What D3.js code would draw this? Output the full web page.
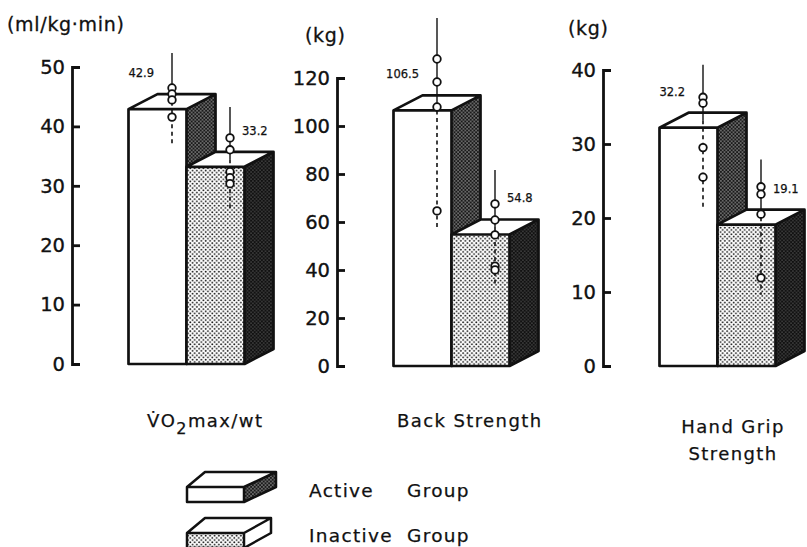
<!DOCTYPE html>
<html>
<head>
<meta charset="utf-8">
<script src="https://cdn.jsdelivr.net/npm/d3@7"></script>
<style>
  html, body { margin: 0; padding: 0; background: #fff; }
  svg { display: block; }
  text { font-family: "DejaVu Sans", sans-serif; fill: #111; }
</style>
</head>
<body>
<svg id="chart" width="807" height="547"></svg>
<script>
// ---- data ----
const measures = ["VO2max/wt", "Back Strength", "Hand Grip Strength"];
const groups = ["Active Group", "Inactive Group"];
const units = ["(ml/kg\u00B7min)", "(kg)", "(kg)"];
const axisMax = [50, 120, 40];
const tickStep = [10, 20, 10];

const activeMean = [42.9, 106.5, 32.2];
const inactiveMean = [33.2, 54.8, 19.1];
const activeUpper = [51.1, 141.9, 39.7];
const activeLower = [35.8, 53.5, 20.5];
const inactiveUpper = [42.0, 78.5, 26.9];
const inactiveLower = [25.0, 30.6, 8.6];
const activePoints = [
  [45.2, 44.2, 43.2, 40.3],
  [124.8, 115.2, 104.8, 61.5],
  [35.3, 34.5, 28.5, 24.5]
];
const inactivePoints = [
  [36.8, 34.8, 31.1, 30.1, 29.1],
  [64.4, 57.7, 51.5, 38.5, 36.9],
  [23.2, 22.2, 19.5, 10.9]
];

// ---- layout ----
const svg = d3.select("#chart");
const panelAxisX = [72, 337, 603];
const panelTop = [67, 78, 70];
const panelBase = [364, 366, 366];
const barW = 58;
const depthX = 29, depthY = -15;
const ink = "#111";

// fill patterns (printed stipple screens)
const defs = svg.append("defs");
function dotPattern(id, bg, dot, r, s) {
  const p = defs.append("pattern").attr("id", id)
    .attr("patternUnits", "userSpaceOnUse").attr("width", s).attr("height", s);
  p.append("rect").attr("width", s).attr("height", s).attr("fill", bg);
  p.append("circle").attr("cx", s / 4).attr("cy", s / 4).attr("r", r).attr("fill", dot);
  p.append("circle").attr("cx", 3 * s / 4).attr("cy", 3 * s / 4).attr("r", r).attr("fill", dot);
}
dotPattern("lightDots", "#fff", "#1a1a1a", 0.95, 4.4);
dotPattern("darkDots", "#1a1a1a", "#eee", 0.62, 3.6);
dotPattern("darkerDots", "#111", "#ccc", 0.45, 3.6);

function drawBlock(g, x0, x1, yTop, yBase, frontFill, sideFill) {
  const poly = pts => pts.map(p => p.join(",")).join(" ");
  g.append("polygon")
    .attr("points", poly([[x1, yTop], [x1 + depthX, yTop + depthY], [x1 + depthX, yBase + depthY], [x1, yBase]]))
    .attr("fill", sideFill);
  g.append("polygon")
    .attr("points", poly([[x0, yTop], [x0 + depthX, yTop + depthY], [x1 + depthX, yTop + depthY], [x1, yTop]]))
    .attr("fill", "#fff");
  g.append("rect").attr("x", x0).attr("y", yTop).attr("width", x1 - x0).attr("height", yBase - yTop)
    .attr("fill", frontFill);
  g.append("path")
    .attr("d", `M${x0},${yBase}V${yTop}L${x0 + depthX},${yTop + depthY}H${x1 + depthX}V${yBase + depthY}L${x1},${yBase}Z` +
               `M${x0},${yTop}H${x1}L${x1 + depthX},${yTop + depthY}M${x1},${yTop}V${yBase}`)
    .attr("fill", "none").attr("stroke", ink).attr("stroke-width", 2.7).attr("stroke-linejoin", "round");
}

measures.forEach((m, i) => {
  const g = svg.append("g");
  const y = d3.scaleLinear().domain([0, axisMax[i]]).range([panelBase[i], panelTop[i]]);
  const x = d3.scaleBand().domain(groups)
    .range([panelAxisX[i] + 56.5, panelAxisX[i] + 56.5 + 2 * barW]).padding(0);

  // axis with inward ticks
  const axis = d3.axisLeft(y)
    .tickValues(d3.range(0, axisMax[i] + 0.001, tickStep[i]))
    .tickSizeInner(-8).tickSizeOuter(-8).tickPadding(7);
  const ag = g.append("g").attr("transform", `translate(${panelAxisX[i]},0)`).call(axis);
  ag.select(".domain").attr("stroke", ink).attr("stroke-width", 2.8);
  ag.selectAll(".tick line").attr("stroke", ink).attr("stroke-width", 2.8);
  ag.selectAll(".tick text").attr("font-size", 19.5).attr("font-family", "DejaVu Sans")
    .attr("fill", ink).attr("stroke", ink).attr("stroke-width", 0.35);

  const unitX = [7, 305, 568][i];
  g.append("text").attr("x", unitX).attr("y", [31, 42, 35][i])
    .attr("font-size", 19).attr("letter-spacing", 0.7)
    .attr("stroke", ink).attr("stroke-width", 0.3).text(units[i]);

  const means = [activeMean[i], inactiveMean[i]];
  const uppers = [activeUpper[i], inactiveUpper[i]];
  const lowers = [activeLower[i], inactiveLower[i]];
  const pts = [activePoints[i], inactivePoints[i]];
  const fronts = ["#fff", "url(#lightDots)"];
  const sides = ["url(#darkDots)", "url(#darkerDots)"];

  groups.forEach((grp, k) => {
    const x0 = x(grp), x1 = x0 + x.bandwidth();
    drawBlock(g, x0, x1, y(means[k]), y(0), fronts[k], sides[k]);
  });

  groups.forEach((grp, k) => {
    const cx = x(grp) + x.bandwidth() / 2 + depthX / 2;
    const yc = v => y(v) + depthY / 2;
    g.append("line").attr("x1", cx).attr("x2", cx).attr("y1", yc(uppers[k])).attr("y2", yc(means[k]))
      .attr("stroke", ink).attr("stroke-width", 1.4);
    g.append("line").attr("x1", cx).attr("x2", cx).attr("y1", yc(means[k])).attr("y2", yc(lowers[k]))
      .attr("stroke", ink).attr("stroke-width", 1.6).attr("stroke-dasharray", "4,3.5");
    g.selectAll(null).data(pts[k]).enter().append("circle")
      .attr("cx", cx).attr("cy", d => yc(d)).attr("r", 3.8)
      .attr("fill", "#fff").attr("stroke", ink).attr("stroke-width", 1.8);
    g.append("text")
      .attr("x", k === 0 ? cx - 18 : cx + 12)
      .attr("y", yc(means[k]) - 28)
      .attr("text-anchor", k === 0 ? "end" : "start")
      .attr("dominant-baseline", "middle")
      .attr("stroke", ink).attr("stroke-width", 0.25)
      .attr("font-size", 11.5).text(means[k].toFixed(1));
  });
});

// category labels
const lab = svg.append("g").attr("font-size", 18).attr("letter-spacing", 1.4)
  .attr("stroke", ink).attr("stroke-width", 0.25);
const vo = lab.append("text").attr("x", 147).attr("y", 427);
vo.append("tspan").text("V\u0307O");
vo.append("tspan").attr("dy", 7).attr("font-size", 16).text("2");
vo.append("tspan").attr("dy", -7).text("max/wt");
lab.append("text").attr("x", 397).attr("y", 427).text(measures[1]);
lab.append("text").attr("x", 733).attr("y", 433).attr("text-anchor", "middle").text("Hand Grip");
lab.append("text").attr("x", 733).attr("y", 460).attr("text-anchor", "middle").text("Strength");

// legend
function legendBox(g, y0, frontFill, sideFill, backL, backR) {
  const fx0 = 187, fx1 = 244, h = 15, dy = -15;
  const poly = pts => pts.map(p => p.join(",")).join(" ");
  g.append("polygon").attr("points", poly([[fx1, y0], [backR, y0 + dy], [backR, y0 + dy + h], [fx1, y0 + h]]))
    .attr("fill", sideFill);
  g.append("polygon").attr("points", poly([[fx0, y0], [backL, y0 + dy], [backR, y0 + dy], [fx1, y0]]))
    .attr("fill", "#fff");
  g.append("rect").attr("x", fx0).attr("y", y0).attr("width", fx1 - fx0).attr("height", h).attr("fill", frontFill);
  g.append("path")
    .attr("d", `M${fx0},${y0 + h}V${y0}L${backL},${y0 + dy}H${backR}V${y0 + dy + h}L${fx1},${y0 + h}Z` +
               `M${fx0},${y0}H${fx1}L${backR},${y0 + dy}M${fx1},${y0}V${y0 + h}`)
    .attr("fill", "none").attr("stroke", ink).attr("stroke-width", 2.5).attr("stroke-linejoin", "round");
}
const lg = svg.append("g");
legendBox(lg, 487, "#fff", "url(#darkDots)", 205, 276);
legendBox(lg, 533, "url(#lightDots)", "#fff", 205, 271);
const lt = svg.append("g").attr("font-size", 18.5).attr("letter-spacing", 1.3)
  .attr("stroke", ink).attr("stroke-width", 0.25);
[["Active", 497], ["Inactive", 542]].forEach(([w, yy]) => {
  lt.append("text").attr("x", 309).attr("y", yy).text(w);
  lt.append("text").attr("x", 407).attr("y", yy).text("Group");
});
</script>
</body>
</html>
